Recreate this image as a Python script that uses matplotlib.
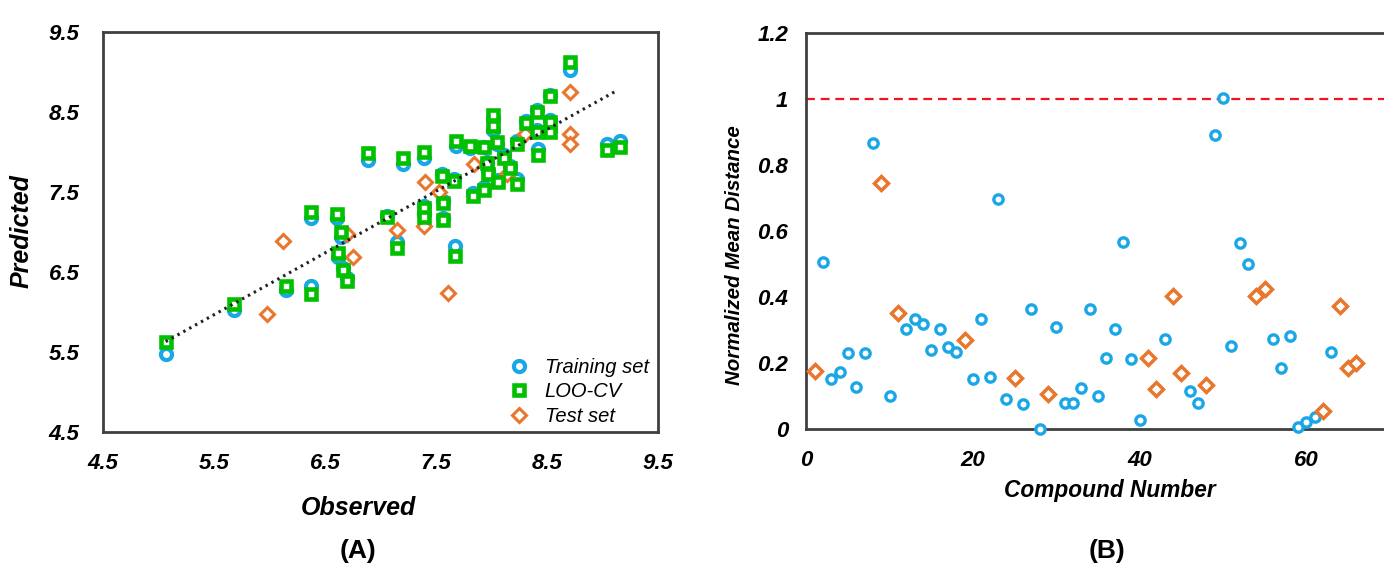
import numpy as np
import matplotlib.pyplot as plt

plt.rcParams['font.family'] = ['Liberation Sans', 'DejaVu Sans']

# ---- panel A data (observed vs predicted) ----
train_obs = [5.065, 5.68, 6.145, 6.37, 6.37, 6.61, 6.64, 6.62, 6.66, 6.70, 6.89, 7.06,
             7.15, 7.20, 7.39, 7.39, 7.39, 7.56, 7.56, 7.55, 7.66, 7.67, 7.68, 7.81,
             7.83, 7.93, 7.93, 7.96, 7.97, 8.01, 8.01, 8.05, 8.06, 8.11, 8.17, 8.23,
             8.23, 8.31, 8.41, 8.41, 8.42, 8.53, 8.53, 8.53, 8.71, 9.04, 9.16]
train_pred = [5.475, 6.025, 6.275, 6.325, 7.17, 7.17, 6.94, 6.69, 6.55, 6.42, 7.90, 7.20,
              6.88, 7.85, 7.93, 7.33, 7.22, 7.39, 7.18, 7.72, 7.66, 6.82, 8.07, 8.05,
              7.49, 8.06, 7.56, 7.88, 7.76, 8.43, 8.28, 8.10, 7.65, 7.96, 7.83, 8.14,
              7.66, 8.39, 8.52, 8.27, 8.04, 8.40, 8.27, 8.71, 9.03, 8.10, 8.14]
loo_pred = [5.63, 6.10, 6.32, 6.23, 7.25, 7.23, 7.00, 6.74, 6.52, 6.39, 7.99, 7.19,
            6.80, 7.92, 8.00, 7.30, 7.19, 7.36, 7.15, 7.70, 7.64, 6.70, 8.14, 8.07,
            7.45, 8.06, 7.53, 7.86, 7.73, 8.46, 8.32, 8.12, 7.63, 7.92, 7.80, 8.10,
            7.60, 8.36, 8.50, 8.25, 7.96, 8.37, 8.25, 8.70, 9.12, 8.02, 8.06]
test_obs = [5.98, 6.12, 6.70, 6.755, 7.15, 7.39, 7.40, 7.53, 7.61, 7.84, 8.14, 8.30,
            8.71, 8.71, 8.71]
test_pred = [5.98, 6.89, 6.97, 6.69, 7.02, 7.07, 7.62, 7.50, 6.24, 7.85, 7.73, 8.23,
             8.75, 8.23, 8.10]
trend_x = [5.065, 9.14]
trend_slope = 0.772
trend_intercept = 1.72

# ---- panel B data (applicability domain) ----
dist = [0.178, 0.508, 0.152, 0.175, 0.230, 0.129, 0.230, 0.868, 0.746, 0.102,
        0.353, 0.304, 0.333, 0.318, 0.240, 0.305, 0.250, 0.235, 0.271, 0.152,
        0.333, 0.159, 0.698, 0.092, 0.155, 0.076, 0.365, 0.0, 0.106, 0.309,
        0.079, 0.079, 0.124, 0.365, 0.101, 0.217, 0.305, 0.568, 0.213, 0.028,
        0.217, 0.122, 0.274, 0.404, 0.170, 0.115, 0.080, 0.134, 0.892, 1.004,
        0.253, 0.564, 0.500, 0.404, 0.424, 0.274, 0.185, 0.283, 0.008, 0.023,
        0.036, 0.055, 0.235, 0.374, 0.187, 0.202]
test_ids = [1, 9, 11, 19, 25, 29, 41, 42, 44, 45, 48, 54, 55, 62, 64, 65, 66]

blue = '#1AA7E6'
green = '#00C000'
orange = '#E8762D'
spine = '#404040'
tickfont = dict(fontsize=16, fontweight='bold', fontstyle='italic')

fig = plt.figure(figsize=(13.84, 5.66), dpi=100)

# ---------- (A) ----------
ax1 = fig.add_axes([103/1384, 1 - 432/566, 555/1384, 400/566])
ax1.plot(train_obs, train_pred, 'o', ms=8, mfc='white', mec=blue, mew=3,
         label='Training set', zorder=3)
ax1.plot(test_obs, test_pred, 'D', ms=6.8, mfc='white', mec=orange, mew=2.2,
         label='Test set', zorder=4)
ax1.plot(train_obs, loo_pred, 's', ms=7.2, mfc='white', mec=green, mew=3.3,
         label='LOO-CV', zorder=5)
tx = np.array(trend_x)
ax1.plot(tx, trend_intercept + trend_slope * tx, color='#222222', lw=2.2,
         dashes=(0.8, 1.4), zorder=6)
ax1.set_xlim(4.5, 9.5)
ax1.set_ylim(4.5, 9.5)
ax1.set_xticks(np.arange(4.5, 9.6, 1.0))
ax1.set_yticks(np.arange(4.5, 9.6, 1.0))
ax1.tick_params(length=0, pad=15)
ax1.tick_params(axis='y', pad=17)
for lab in ax1.get_xticklabels() + ax1.get_yticklabels():
    lab.set(**tickfont)
h, l = ax1.get_legend_handles_labels()
ax1.legend([h[0], h[2], h[1]], [l[0], l[2], l[1]], loc='lower left',
           bbox_to_anchor=(0.68, -0.03), frameon=False, handletextpad=0.3,
           labelspacing=0.28, prop=dict(size=14.5, style='italic'))

# ---------- (B) ----------
ax2 = fig.add_axes([806.4/1384, 1 - 429.3/566, 666.4/1384, 396/566])
ids = np.arange(1, len(dist) + 1)
d = np.array(dist)
is_test = np.isin(ids, test_ids)
ax2.plot(ids[~is_test], d[~is_test], 'o', ms=6.7, mfc='white', mec=blue, mew=2.4,
         zorder=4, clip_on=False)
ax2.plot(ids[is_test], d[is_test], 'D', ms=7.2, mfc='white', mec=orange, mew=2.5,
         zorder=4, clip_on=False)
ax2.axhline(1, color='#F0141B', lw=1.6, dashes=(4, 2.6), zorder=2)
ax2.set_xlim(0, 80)
ax2.set_ylim(0, 1.2)
ax2.set_xticks([0, 20, 40, 60])
ax2.set_yticks([0, 0.2, 0.4, 0.6, 0.8, 1, 1.2])
ax2.set_yticklabels(['0', '0.2', '0.4', '0.6', '0.8', '1', '1.2'])
ax2.tick_params(length=0, pad=15)
ax2.tick_params(axis='y', pad=13)
for lab in ax2.get_xticklabels() + ax2.get_yticklabels():
    lab.set(**tickfont)

for ax in (ax1, ax2):
    for s in ax.spines.values():
        s.set_color(spine)
        s.set_linewidth(2)

bi = dict(fontweight='bold', fontstyle='italic', ha='center', va='center')
fig.text(358/1384, 1 - 508/566, 'Observed', fontsize=18, **bi)
fig.text(22/1384, 1 - 231/566, 'Predicted', fontsize=18, rotation=90, **bi)
fig.text(1110/1384, 1 - 491/566, 'Compound Number', fontsize=16.3, **bi)
fig.text(734/1384, 1 - 255/566, 'Normalized Mean Distance', fontsize=14.8,
         rotation=90, **bi)
fig.text(358/1384, 1 - 551/566, '(A)', ha='center', va='center', fontsize=19, fontweight='bold')
fig.text(1107/1384, 1 - 551/566, '(B)', ha='center', va='center', fontsize=19, fontweight='bold')

fig.savefig('out.png', dpi=100)
